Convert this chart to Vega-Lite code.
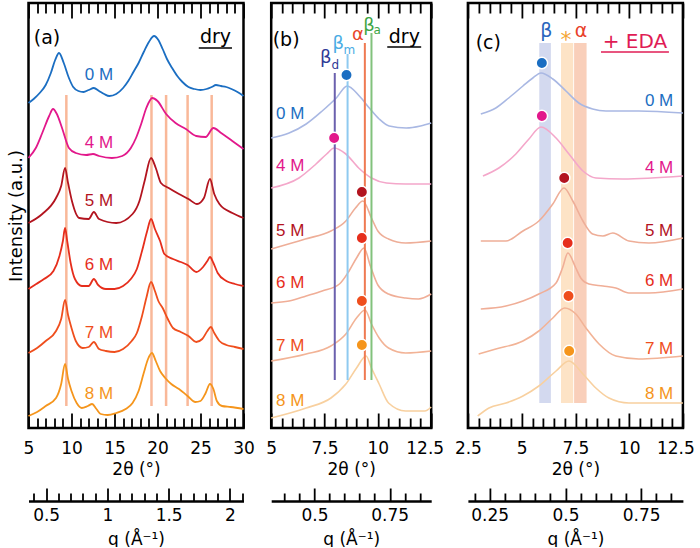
{
  "$schema": "https://vega.github.io/schema/vega-lite/v6.json",
  "padding": {"left": 5.5, "top": 0, "right": 0, "bottom": 0},
  "background": "white",
  "config": {
    "font": "DejaVu Sans",
    "view": {"stroke": "black", "strokeWidth": 2.5},
    "axis": {"labelFontSize": 17, "titleFontSize": 17, "titleFontWeight": "normal", "labelColor": "black", "titleColor": "black", "tickColor": "black", "tickWidth": 1.8, "domainColor": "black", "grid": false, "labelFlush": false, "labelOverlap": false},
    "text": {"fontSize": 17}
  },
  "datasets": {
    "a_curves": [
      {"s":"0 M","x":5,"y":325},{"s":"0 M","x":5.6,"y":329},{"s":"0 M","x":6.3,"y":335},{"s":"0 M","x":7,"y":343},{"s":"0 M","x":7.6,"y":355},{"s":"0 M","x":8.1,"y":368},{"s":"0 M","x":8.55,"y":375},{"s":"0 M","x":9.1,"y":365},{"s":"0 M","x":9.7,"y":350},{"s":"0 M","x":10.2,"y":341},{"s":"0 M","x":10.8,"y":337},{"s":"0 M","x":11.4,"y":336},{"s":"0 M","x":12,"y":338},{"s":"0 M","x":12.6,"y":340},{"s":"0 M","x":13.2,"y":337},{"s":"0 M","x":13.8,"y":334},{"s":"0 M","x":14.4,"y":332},{"s":"0 M","x":15.2,"y":334},{"s":"0 M","x":16,"y":340},{"s":"0 M","x":16.6,"y":347},{"s":"0 M","x":17.2,"y":356},{"s":"0 M","x":17.8,"y":365},{"s":"0 M","x":18.4,"y":376},{"s":"0 M","x":19,"y":386},{"s":"0 M","x":19.6,"y":392},{"s":"0 M","x":20.1,"y":388},{"s":"0 M","x":20.6,"y":379},{"s":"0 M","x":21.1,"y":369},{"s":"0 M","x":21.7,"y":360},{"s":"0 M","x":22.3,"y":352},{"s":"0 M","x":22.9,"y":346},{"s":"0 M","x":23.6,"y":341},{"s":"0 M","x":24.3,"y":339},{"s":"0 M","x":25,"y":338},{"s":"0 M","x":25.7,"y":339},{"s":"0 M","x":26.3,"y":341},{"s":"0 M","x":26.8,"y":343},{"s":"0 M","x":27.4,"y":342},{"s":"0 M","x":28,"y":341},{"s":"0 M","x":28.6,"y":339},{"s":"0 M","x":29.3,"y":336},{"s":"0 M","x":30,"y":332},
      {"s":"4 M","x":5,"y":270},{"s":"4 M","x":5.85,"y":280},{"s":"4 M","x":6.6,"y":295},{"s":"4 M","x":7.4,"y":312},{"s":"4 M","x":7.85,"y":319},{"s":"4 M","x":8.3,"y":314},{"s":"4 M","x":8.9,"y":300},{"s":"4 M","x":9.7,"y":280},{"s":"4 M","x":10.5,"y":275},{"s":"4 M","x":11.7,"y":273},{"s":"4 M","x":12.5,"y":274},{"s":"4 M","x":13.2,"y":272},{"s":"4 M","x":14.7,"y":270},{"s":"4 M","x":15.9,"y":272},{"s":"4 M","x":16.9,"y":280},{"s":"4 M","x":17.5,"y":290},{"s":"4 M","x":18.1,"y":304},{"s":"4 M","x":18.7,"y":320},{"s":"4 M","x":19.4,"y":330},{"s":"4 M","x":20,"y":327},{"s":"4 M","x":21,"y":314},{"s":"4 M","x":22.1,"y":305},{"s":"4 M","x":23.3,"y":299},{"s":"4 M","x":24.5,"y":292},{"s":"4 M","x":25.6,"y":291},{"s":"4 M","x":26.5,"y":300},{"s":"4 M","x":27.4,"y":295},{"s":"4 M","x":28.7,"y":287},{"s":"4 M","x":30,"y":279},
      {"s":"5 M","x":5,"y":205},{"s":"5 M","x":6.6,"y":214},{"s":"5 M","x":8.2,"y":230},{"s":"5 M","x":8.8,"y":242},{"s":"5 M","x":9.25,"y":260},{"s":"5 M","x":9.6,"y":245},{"s":"5 M","x":10.05,"y":227},{"s":"5 M","x":10.9,"y":210},{"s":"5 M","x":12,"y":209},{"s":"5 M","x":12.6,"y":216},{"s":"5 M","x":13.2,"y":209},{"s":"5 M","x":15.2,"y":205},{"s":"5 M","x":17.1,"y":214},{"s":"5 M","x":17.9,"y":227},{"s":"5 M","x":18.5,"y":247},{"s":"5 M","x":19.25,"y":270},{"s":"5 M","x":19.8,"y":260},{"s":"5 M","x":20.4,"y":245},{"s":"5 M","x":21.3,"y":240},{"s":"5 M","x":22.5,"y":234},{"s":"5 M","x":23.6,"y":229},{"s":"5 M","x":24.6,"y":224},{"s":"5 M","x":25.4,"y":230},{"s":"5 M","x":26.1,"y":249},{"s":"5 M","x":26.6,"y":234},{"s":"5 M","x":27.2,"y":224},{"s":"5 M","x":28.7,"y":215},{"s":"5 M","x":30,"y":210},
      {"s":"6 M","x":5,"y":139},{"s":"6 M","x":5.9,"y":144},{"s":"6 M","x":6.8,"y":149},{"s":"6 M","x":7.9,"y":157},{"s":"6 M","x":8.6,"y":172},{"s":"6 M","x":9,"y":187},{"s":"6 M","x":9.25,"y":200},{"s":"6 M","x":9.5,"y":187},{"s":"6 M","x":9.9,"y":165},{"s":"6 M","x":10.4,"y":149},{"s":"6 M","x":11.2,"y":142},{"s":"6 M","x":12,"y":142},{"s":"6 M","x":12.6,"y":149},{"s":"6 M","x":13.1,"y":143},{"s":"6 M","x":14,"y":139},{"s":"6 M","x":15,"y":139},{"s":"6 M","x":16,"y":142},{"s":"6 M","x":16.9,"y":149},{"s":"6 M","x":17.6,"y":159},{"s":"6 M","x":18.2,"y":177},{"s":"6 M","x":18.8,"y":197},{"s":"6 M","x":19.25,"y":209},{"s":"6 M","x":19.7,"y":199},{"s":"6 M","x":20.3,"y":187},{"s":"6 M","x":20.8,"y":174},{"s":"6 M","x":21.8,"y":169},{"s":"6 M","x":22.7,"y":166},{"s":"6 M","x":23.5,"y":163},{"s":"6 M","x":24.5,"y":156},{"s":"6 M","x":25.3,"y":161},{"s":"6 M","x":25.8,"y":167},{"s":"6 M","x":26.1,"y":171},{"s":"6 M","x":26.5,"y":165},{"s":"6 M","x":27,"y":155},{"s":"6 M","x":28,"y":147},{"s":"6 M","x":29,"y":144},{"s":"6 M","x":30,"y":142},
      {"s":"7 M","x":5,"y":75},{"s":"7 M","x":6,"y":80},{"s":"7 M","x":7,"y":87},{"s":"7 M","x":8.2,"y":97},{"s":"7 M","x":8.8,"y":109},{"s":"7 M","x":9.25,"y":128},{"s":"7 M","x":9.6,"y":113},{"s":"7 M","x":10,"y":100},{"s":"7 M","x":10.5,"y":87},{"s":"7 M","x":11.3,"y":80},{"s":"7 M","x":12,"y":81},{"s":"7 M","x":12.6,"y":86},{"s":"7 M","x":13.2,"y":79},{"s":"7 M","x":14,"y":77},{"s":"7 M","x":15,"y":76},{"s":"7 M","x":16,"y":79},{"s":"7 M","x":17,"y":87},{"s":"7 M","x":17.6,"y":95},{"s":"7 M","x":18.2,"y":112},{"s":"7 M","x":18.7,"y":130},{"s":"7 M","x":19.25,"y":146},{"s":"7 M","x":19.7,"y":137},{"s":"7 M","x":20.1,"y":127},{"s":"7 M","x":20.6,"y":120},{"s":"7 M","x":21.2,"y":109},{"s":"7 M","x":21.8,"y":100},{"s":"7 M","x":22.7,"y":96},{"s":"7 M","x":23.6,"y":92},{"s":"7 M","x":24.5,"y":86},{"s":"7 M","x":25.2,"y":89},{"s":"7 M","x":25.8,"y":97},{"s":"7 M","x":26.2,"y":101},{"s":"7 M","x":26.6,"y":95},{"s":"7 M","x":27.2,"y":87},{"s":"7 M","x":28,"y":83},{"s":"7 M","x":29,"y":81},{"s":"7 M","x":30,"y":79},
      {"s":"8 M","x":5,"y":12},{"s":"8 M","x":6,"y":16},{"s":"8 M","x":7,"y":22},{"s":"8 M","x":8.2,"y":30},{"s":"8 M","x":8.8,"y":44},{"s":"8 M","x":9.25,"y":64},{"s":"8 M","x":9.6,"y":49},{"s":"8 M","x":10,"y":37},{"s":"8 M","x":10.6,"y":25},{"s":"8 M","x":11.2,"y":20},{"s":"8 M","x":11.9,"y":22},{"s":"8 M","x":12.4,"y":24},{"s":"8 M","x":12.9,"y":19},{"s":"8 M","x":13.4,"y":14},{"s":"8 M","x":14.2,"y":13},{"s":"8 M","x":15.2,"y":15},{"s":"8 M","x":16.3,"y":19},{"s":"8 M","x":17.1,"y":25},{"s":"8 M","x":17.8,"y":37},{"s":"8 M","x":18.4,"y":55},{"s":"8 M","x":18.9,"y":69},{"s":"8 M","x":19.35,"y":75},{"s":"8 M","x":19.8,"y":67},{"s":"8 M","x":20.3,"y":57},{"s":"8 M","x":20.9,"y":50},{"s":"8 M","x":21.6,"y":44},{"s":"8 M","x":22.5,"y":39},{"s":"8 M","x":23.5,"y":32},{"s":"8 M","x":24.4,"y":26},{"s":"8 M","x":25,"y":27},{"s":"8 M","x":25.6,"y":35},{"s":"8 M","x":26.1,"y":44},{"s":"8 M","x":26.5,"y":39},{"s":"8 M","x":26.9,"y":27},{"s":"8 M","x":27.5,"y":22},{"s":"8 M","x":28.5,"y":21},{"s":"8 M","x":30,"y":19}
    ],
    "a_lines": [
      {"x":9.4,"y1":22,"y2":333},{"x":19.3,"y1":22,"y2":333},{"x":21.0,"y1":22,"y2":333},{"x":23.5,"y1":22,"y2":333},{"x":26.3,"y1":22,"y2":333}
    ],
    "a_labels": [
      {"s":"0 M","x":13.2,"y":353},{"s":"4 M","x":13.2,"y":285},{"s":"5 M","x":13.2,"y":227},{"s":"6 M","x":13.2,"y":163},{"s":"7 M","x":13.2,"y":95},{"s":"8 M","x":13.2,"y":34}
    ],
    "a_text": [
      {"t":"(a)","x":7.15,"y":390},{"t":"dry","x":26.74,"y":391}
    ],
    "a_ul": [{"x1":24.8,"x2":28.66,"y":380}],
    "b_curves": [
      {"s":"0 M","x":5,"y":290},{"s":"0 M","x":5.84,"y":295},{"s":"0 M","x":6.64,"y":304},{"s":"0 M","x":7.39,"y":317},{"s":"0 M","x":8.05,"y":330},{"s":"0 M","x":8.56,"y":342},{"s":"0 M","x":9.13,"y":332},{"s":"0 M","x":9.6,"y":320},{"s":"0 M","x":10.06,"y":309},{"s":"0 M","x":10.53,"y":302},{"s":"0 M","x":11.33,"y":300},{"s":"0 M","x":12,"y":302},{"s":"0 M","x":12.5,"y":305},
      {"s":"4 M","x":5,"y":240},{"s":"4 M","x":6.3,"y":250},{"s":"4 M","x":7.1,"y":264},{"s":"4 M","x":7.6,"y":274},{"s":"4 M","x":7.95,"y":280},{"s":"4 M","x":8.5,"y":274},{"s":"4 M","x":9.1,"y":260},{"s":"4 M","x":9.7,"y":250},{"s":"4 M","x":10.4,"y":245},{"s":"4 M","x":11.3,"y":244},{"s":"4 M","x":12.5,"y":244},
      {"s":"5 M","x":5,"y":179},{"s":"5 M","x":6.6,"y":189},{"s":"5 M","x":7.8,"y":197},{"s":"5 M","x":8.5,"y":207},{"s":"5 M","x":8.95,"y":220},{"s":"5 M","x":9.3,"y":227},{"s":"5 M","x":9.7,"y":210},{"s":"5 M","x":10,"y":197},{"s":"5 M","x":10.5,"y":189},{"s":"5 M","x":11.3,"y":185},{"s":"5 M","x":12.5,"y":187},
      {"s":"6 M","x":5,"y":125},{"s":"6 M","x":5.84,"y":127},{"s":"6 M","x":6.64,"y":132},{"s":"6 M","x":7.39,"y":137},{"s":"6 M","x":8.2,"y":144},{"s":"6 M","x":8.65,"y":157},{"s":"6 M","x":9,"y":170},{"s":"6 M","x":9.35,"y":180},{"s":"6 M","x":9.65,"y":162},{"s":"6 M","x":10,"y":143},{"s":"6 M","x":10.5,"y":134},{"s":"6 M","x":11.3,"y":130},{"s":"6 M","x":11.9,"y":129},{"s":"6 M","x":12.5,"y":134},
      {"s":"7 M","x":5,"y":67},{"s":"7 M","x":6.64,"y":74},{"s":"7 M","x":7.8,"y":82},{"s":"7 M","x":8.5,"y":94},{"s":"7 M","x":9,"y":110},{"s":"7 M","x":9.4,"y":118},{"s":"7 M","x":9.7,"y":104},{"s":"7 M","x":10.06,"y":90},{"s":"7 M","x":10.5,"y":80},{"s":"7 M","x":11.3,"y":75},{"s":"7 M","x":12.5,"y":77},
      {"s":"8 M","x":5,"y":10},{"s":"8 M","x":6.64,"y":20},{"s":"8 M","x":7.8,"y":30},{"s":"8 M","x":8.5,"y":44},{"s":"8 M","x":9,"y":60},{"s":"8 M","x":9.45,"y":72},{"s":"8 M","x":9.7,"y":60},{"s":"8 M","x":10.06,"y":44},{"s":"8 M","x":10.5,"y":25},{"s":"8 M","x":11.3,"y":17},{"s":"8 M","x":12.2,"y":17},{"s":"8 M","x":12.5,"y":21}
    ],
    "b_points": [
      {"s":"0 M","x":8.53,"y":353},{"s":"4 M","x":7.95,"y":290},{"s":"5 M","x":9.25,"y":236},{"s":"6 M","x":9.25,"y":190},{"s":"7 M","x":9.25,"y":127},{"s":"8 M","x":9.25,"y":83}
    ],
    "b_vlines": [
      {"s":"βd","x":7.98,"y1":48,"y2":355},{"s":"βm","x":8.58,"y1":48,"y2":374},{"s":"α","x":9.39,"y1":48,"y2":385},{"s":"βa","x":9.7,"y1":48,"y2":395}
    ],
    "b_annot": [
      {"s":"βd","t":"β","x":7.56,"y":370},{"s":"βm","t":"β","x":8.14,"y":384},{"s":"α","t":"α","x":9.06,"y":393},{"s":"βa","t":"β","x":9.59,"y":402}
    ],
    "b_sub": [
      {"s":"βd","t":"d","x":8.01,"y":363},{"s":"βm","t":"m","x":8.66,"y":378},{"s":"βa","t":"a","x":9.97,"y":398}
    ],
    "b_labels": [
      {"s":"0 M","x":5.23,"y":314},{"s":"4 M","x":5.23,"y":262},{"s":"5 M","x":5.23,"y":197},{"s":"6 M","x":5.23,"y":145},{"s":"7 M","x":5.23,"y":82},{"s":"8 M","x":5.23,"y":27}
    ],
    "b_text": [
      {"t":"(b)","x":5.7,"y":388},{"t":"dry","x":11.24,"y":391}
    ],
    "b_ul": [{"x1":10.44,"x2":12.03,"y":381}],
    "c_curves": [
      {"s":"0 M","x":3.1,"y":314},{"s":"0 M","x":3.8,"y":320},{"s":"0 M","x":4.4,"y":330},{"s":"0 M","x":5.06,"y":342},{"s":"0 M","x":5.52,"y":350},{"s":"0 M","x":5.9,"y":355},{"s":"0 M","x":6.45,"y":349},{"s":"0 M","x":7.06,"y":337},{"s":"0 M","x":7.66,"y":325},{"s":"0 M","x":8.3,"y":319},{"s":"0 M","x":8.92,"y":317},{"s":"0 M","x":10.45,"y":317},{"s":"0 M","x":12.5,"y":315},
      {"s":"4 M","x":3.2,"y":252},{"s":"4 M","x":3.94,"y":260},{"s":"4 M","x":4.73,"y":274},{"s":"4 M","x":5.34,"y":289},{"s":"4 M","x":5.9,"y":301},{"s":"4 M","x":6.6,"y":290},{"s":"4 M","x":7.2,"y":274},{"s":"4 M","x":7.85,"y":257},{"s":"4 M","x":8.45,"y":250},{"s":"4 M","x":9.7,"y":249},{"s":"4 M","x":12.5,"y":252},
      {"s":"5 M","x":3.1,"y":187},{"s":"5 M","x":4.27,"y":187},{"s":"5 M","x":5.06,"y":197},{"s":"5 M","x":5.8,"y":207},{"s":"5 M","x":6.45,"y":224},{"s":"5 M","x":6.97,"y":240},{"s":"5 M","x":7.38,"y":227},{"s":"5 M","x":7.85,"y":207},{"s":"5 M","x":8.3,"y":194},{"s":"5 M","x":8.78,"y":192},{"s":"5 M","x":9.24,"y":195},{"s":"5 M","x":9.99,"y":187},{"s":"5 M","x":10.92,"y":185},{"s":"5 M","x":12.5,"y":190},
      {"s":"6 M","x":3.1,"y":119},{"s":"6 M","x":4.27,"y":122},{"s":"6 M","x":5.06,"y":127},{"s":"6 M","x":5.8,"y":134},{"s":"6 M","x":6.6,"y":145},{"s":"6 M","x":6.9,"y":160},{"s":"6 M","x":7.15,"y":175},{"s":"6 M","x":7.52,"y":160},{"s":"6 M","x":7.75,"y":150},{"s":"6 M","x":8.13,"y":144},{"s":"6 M","x":8.78,"y":142},{"s":"6 M","x":9.38,"y":140},{"s":"6 M","x":9.99,"y":135},{"s":"6 M","x":10.92,"y":135},{"s":"6 M","x":12.5,"y":139},
      {"s":"7 M","x":3,"y":74},{"s":"7 M","x":3.8,"y":79},{"s":"7 M","x":5.06,"y":87},{"s":"7 M","x":5.8,"y":97},{"s":"7 M","x":6.45,"y":110},{"s":"7 M","x":7,"y":120},{"s":"7 M","x":7.52,"y":114},{"s":"7 M","x":7.99,"y":100},{"s":"7 M","x":8.6,"y":84},{"s":"7 M","x":9.38,"y":72},{"s":"7 M","x":10.45,"y":69},{"s":"7 M","x":12.5,"y":72},
      {"s":"8 M","x":2.96,"y":12},{"s":"8 M","x":3.48,"y":20},{"s":"8 M","x":4.27,"y":25},{"s":"8 M","x":5.06,"y":32},{"s":"8 M","x":5.8,"y":42},{"s":"8 M","x":6.6,"y":57},{"s":"8 M","x":7.2,"y":67},{"s":"8 M","x":7.85,"y":54},{"s":"8 M","x":8.45,"y":40},{"s":"8 M","x":9.06,"y":30},{"s":"8 M","x":9.99,"y":25},{"s":"8 M","x":11.24,"y":25},{"s":"8 M","x":12.5,"y":25}
    ],
    "c_points": [
      {"s":"0 M","x":5.94,"y":365},{"s":"4 M","x":5.94,"y":312},{"s":"5 M","x":6.98,"y":250},{"s":"6 M","x":7.14,"y":185},{"s":"7 M","x":7.18,"y":132},{"s":"8 M","x":7.21,"y":77}
    ],
    "c_bands": [
      {"band":"β","x1":5.82,"x2":6.36,"y1":25,"y2":385},{"band":"*","x1":6.83,"x2":7.4,"y1":25,"y2":385},{"band":"α","x1":7.44,"x2":8.02,"y1":25,"y2":385}
    ],
    "c_annot": [
      {"s":"β","x":6.15,"y":397},{"s":"α","x":7.76,"y":397}
    ],
    "c_star": [{"s":"*","x":7.06,"y":388}],
    "c_eda": [{"t":"+ EDA","x":10.27,"y":386}],
    "c_labels": [
      {"s":"0 M","x":12.05,"y":327},{"s":"4 M","x":12.05,"y":260},{"s":"5 M","x":12.05,"y":197},{"s":"6 M","x":12.05,"y":147},{"s":"7 M","x":12.05,"y":79},{"s":"8 M","x":12.05,"y":34}
    ],
    "c_text": [{"t":"(c)","x":3.45,"y":385}],
    "c_ul": [{"x1":8.69,"x2":11.85,"y":376}]
  },
  "concat": [
    {
      "width": 215, "height": 425,
      "layer": [
        {"data": {"name": "a_lines"}, "mark": {"type": "rule", "color": "#f9b899", "strokeWidth": 2.5},
         "encoding": {
           "x": {"field": "x", "type": "quantitative", "scale": {"domain": [5, 30], "nice": false, "zero": false},
                 "axis": {"orient": "top", "values": [5,6,7,8,9,10,11,12,13,14,15,16,17,18,19,20,21,22,23,24,25,26,27,28,29,30], "labels": false, "domain": false, "title": null,
                          "tickSize": {"condition": {"test": "datum.value % 5 === 0", "value": -15}, "value": -10}}},
           "y": {"field": "y1", "type": "quantitative", "scale": {"domain": [0, 425], "nice": false, "zero": false},
                 "axis": {"title": "Intensity (a.u.)", "domain": false, "ticks": false, "labels": false, "titlePadding": 3, "titleFontSize": 18}},
           "y2": {"field": "y2"}}},
        {"data": {"name": "a_curves"}, "mark": {"type": "line", "strokeWidth": 1.8, "interpolate": "monotone"},
         "encoding": {
           "x": {"field": "x", "type": "quantitative", "scale": {"domain": [5, 30], "nice": false, "zero": false},
                 "axis": {"orient": "bottom", "values": [5,6,7,8,9,10,11,12,13,14,15,16,17,18,19,20,21,22,23,24,25,26,27,28,29,30], "domain": false,
                          "labelExpr": "datum.value % 5 === 0 ? '' + datum.value : ''",
                          "tickSize": {"condition": {"test": "datum.value % 5 === 0", "value": -15}, "value": -10},
                          "labelPadding": 27, "title": "2θ (°)", "titlePadding": 0}},
           "y": {"field": "y", "type": "quantitative", "scale": {"domain": [0, 425], "nice": false, "zero": false},
                 "axis": {"title": "Intensity (a.u.)", "domain": false, "ticks": false, "labels": false, "titlePadding": 3, "titleFontSize": 18}},
           "color": {"field": "s", "type": "nominal", "scale": {"domain": ["0 M","4 M","5 M","6 M","7 M","8 M"], "range": ["#1b6ec2","#e2188b","#b3141f","#e62e1c","#ef4e1d","#f5951c"]}, "legend": null}}},
        {"data": {"name": "a_labels"}, "mark": {"type": "text", "fontSize": 17, "font": "Liberation Sans", "align": "center", "baseline": "middle"},
         "encoding": {
           "x": {"field": "x", "type": "quantitative", "scale": {"domain": [5, 30], "nice": false, "zero": false}, "axis": null},
           "y": {"field": "y", "type": "quantitative", "scale": {"domain": [0, 425], "nice": false, "zero": false},
                 "axis": {"title": "Intensity (a.u.)", "domain": false, "ticks": false, "labels": false, "titlePadding": 3, "titleFontSize": 18}},
           "text": {"field": "s"},
           "color": {"field": "s", "type": "nominal", "scale": {"domain": ["0 M","4 M","5 M","6 M","7 M","8 M"], "range": ["#1b6ec2","#e2188b","#b3141f","#e62e1c","#ef4e1d","#f5951c"]}, "legend": null}}},
        {"data": {"name": "a_text"}, "mark": {"type": "text", "fontSize": 19, "align": "center", "baseline": "middle", "color": "black"},
         "encoding": {
           "x": {"field": "x", "type": "quantitative", "scale": {"domain": [5, 30], "nice": false, "zero": false}, "axis": null},
           "y": {"field": "y", "type": "quantitative", "scale": {"domain": [0, 425], "nice": false, "zero": false},
                 "axis": {"title": "Intensity (a.u.)", "domain": false, "ticks": false, "labels": false, "titlePadding": 3, "titleFontSize": 18}},
           "text": {"field": "t"}}},
        {"data": {"name": "a_ul"}, "mark": {"type": "rule", "color": "black", "strokeWidth": 1.5},
         "encoding": {
           "x": {"field": "x1", "type": "quantitative", "scale": {"domain": [5, 30], "nice": false, "zero": false}, "axis": null},
           "x2": {"field": "x2"},
           "y": {"field": "y", "type": "quantitative", "scale": {"domain": [0, 425], "nice": false, "zero": false},
                 "axis": {"title": "Intensity (a.u.)", "domain": false, "ticks": false, "labels": false, "titlePadding": 3, "titleFontSize": 18}}}}
      ],
      "resolve": {"axis": {"x": "independent"}}
    },
    {
      "width": 160, "height": 425,
      "layer": [
        {"data": {"name": "b_curves"}, "mark": {"type": "line", "strokeWidth": 1.6, "interpolate": "monotone"},
         "encoding": {
           "x": {"field": "x", "type": "quantitative", "scale": {"domain": [5, 12.5], "nice": false, "zero": false},
                 "axis": {"orient": "bottom", "values": [5,5.5,6,6.5,7,7.5,8,8.5,9,9.5,10,10.5,11,11.5,12,12.5], "domain": false,
                          "labelExpr": "datum.value % 2.5 === 0 ? '' + datum.value : ''",
                          "labelOffset": {"condition": {"test": "datum.value === 12.5", "value": -6.5}, "value": 0},
                          "tickSize": {"condition": {"test": "datum.value % 2.5 === 0", "value": -15}, "value": -10},
                          "labelPadding": 27, "title": "2θ (°)", "titlePadding": 0}},
           "y": {"field": "y", "type": "quantitative", "scale": {"domain": [0, 425], "nice": false, "zero": false}, "axis": null},
           "stroke": {"field": "s", "type": "nominal", "scale": {"domain": ["0 M","4 M","5 M","6 M","7 M","8 M","βd","βm","α","βa"], "range": ["#a9b8e3","#f4a7ca","#eeae98","#f0ae97","#f2b396","#f8d09f","#6b61ae","#8fcaf0","#ef7a52","#82c27c"]}, "legend": null}}},
        {"data": {"name": "b_vlines"}, "mark": {"type": "rule", "strokeWidth": 2},
         "encoding": {
           "x": {"field": "x", "type": "quantitative", "scale": {"domain": [5, 12.5], "nice": false, "zero": false},
                 "axis": {"orient": "top", "values": [5,5.5,6,6.5,7,7.5,8,8.5,9,9.5,10,10.5,11,11.5,12,12.5], "labels": false, "domain": false, "title": null,
                          "tickSize": {"condition": {"test": "datum.value % 2.5 === 0", "value": -15}, "value": -10}}},
           "y": {"field": "y1", "type": "quantitative", "scale": {"domain": [0, 425], "nice": false, "zero": false}, "axis": null},
           "y2": {"field": "y2"},
           "stroke": {"field": "s", "type": "nominal", "scale": {"domain": ["0 M","4 M","5 M","6 M","7 M","8 M","βd","βm","α","βa"], "range": ["#a9b8e3","#f4a7ca","#eeae98","#f0ae97","#f2b396","#f8d09f","#6b61ae","#8fcaf0","#ef7a52","#82c27c"]}, "legend": null}}},
        {"data": {"name": "b_points"}, "mark": {"type": "point", "filled": true, "size": 130, "stroke": "white", "strokeWidth": 1.5, "opacity": 1},
         "encoding": {
           "x": {"field": "x", "type": "quantitative", "scale": {"domain": [5, 12.5], "nice": false, "zero": false}, "axis": null},
           "y": {"field": "y", "type": "quantitative", "scale": {"domain": [0, 425], "nice": false, "zero": false}, "axis": null},
           "color": {"field": "s", "type": "nominal", "scale": {"domain": ["0 M","4 M","5 M","6 M","7 M","8 M"], "range": ["#1b6ec2","#e2188b","#b3141f","#e62e1c","#ef4e1d","#f5951c"]}, "legend": null}}},
        {"data": {"name": "b_labels"}, "mark": {"type": "text", "fontSize": 17, "font": "Liberation Sans", "align": "left", "baseline": "middle"},
         "encoding": {
           "x": {"field": "x", "type": "quantitative", "scale": {"domain": [5, 12.5], "nice": false, "zero": false}, "axis": null},
           "y": {"field": "y", "type": "quantitative", "scale": {"domain": [0, 425], "nice": false, "zero": false}, "axis": null},
           "text": {"field": "s"},
           "color": {"field": "s", "type": "nominal", "scale": {"domain": ["0 M","4 M","5 M","6 M","7 M","8 M"], "range": ["#1b6ec2","#e2188b","#b3141f","#e62e1c","#ef4e1d","#f5951c"]}, "legend": null}}},
        {"data": {"name": "b_annot"}, "mark": {"type": "text", "fontSize": 18, "align": "center", "baseline": "middle"},
         "encoding": {
           "x": {"field": "x", "type": "quantitative", "scale": {"domain": [5, 12.5], "nice": false, "zero": false}, "axis": null},
           "y": {"field": "y", "type": "quantitative", "scale": {"domain": [0, 425], "nice": false, "zero": false}, "axis": null},
           "text": {"field": "t"},
           "color": {"condition": [{"test": "datum.s === 'βd'", "value": "#2f3a96"}, {"test": "datum.s === 'βm'", "value": "#49ace4"}, {"test": "datum.s === 'βa'", "value": "#3ea544"}], "value": "#e9472a"}}},
        {"data": {"name": "b_sub"}, "mark": {"type": "text", "fontSize": 12, "align": "center", "baseline": "middle"},
         "encoding": {
           "x": {"field": "x", "type": "quantitative", "scale": {"domain": [5, 12.5], "nice": false, "zero": false}, "axis": null},
           "y": {"field": "y", "type": "quantitative", "scale": {"domain": [0, 425], "nice": false, "zero": false}, "axis": null},
           "text": {"field": "t"},
           "color": {"condition": [{"test": "datum.s === 'βd'", "value": "#2f3a96"}, {"test": "datum.s === 'βm'", "value": "#49ace4"}, {"test": "datum.s === 'βa'", "value": "#3ea544"}], "value": "#e9472a"}}},
        {"data": {"name": "b_text"}, "mark": {"type": "text", "fontSize": 19, "align": "center", "baseline": "middle", "color": "black"},
         "encoding": {
           "x": {"field": "x", "type": "quantitative", "scale": {"domain": [5, 12.5], "nice": false, "zero": false}, "axis": null},
           "y": {"field": "y", "type": "quantitative", "scale": {"domain": [0, 425], "nice": false, "zero": false}, "axis": null},
           "text": {"field": "t"}}},
        {"data": {"name": "b_ul"}, "mark": {"type": "rule", "color": "black", "strokeWidth": 1.5},
         "encoding": {
           "x": {"field": "x1", "type": "quantitative", "scale": {"domain": [5, 12.5], "nice": false, "zero": false}, "axis": null},
           "x2": {"field": "x2"},
           "y": {"field": "y", "type": "quantitative", "scale": {"domain": [0, 425], "nice": false, "zero": false}, "axis": null}}}
      ],
      "resolve": {"axis": {"x": "independent"}}
    },
    {
      "width": 215, "height": 425,
      "layer": [
        {"data": {"name": "c_bands"}, "mark": {"type": "rect"},
         "encoding": {
           "x": {"field": "x1", "type": "quantitative", "scale": {"domain": [2.5, 12.5], "nice": false, "zero": false},
                 "axis": {"orient": "top", "values": [2.5,3,3.5,4,4.5,5,5.5,6,6.5,7,7.5,8,8.5,9,9.5,10,10.5,11,11.5,12,12.5], "labels": false, "domain": false, "title": null,
                          "tickSize": {"condition": {"test": "datum.value % 2.5 === 0", "value": -15}, "value": -10}}},
           "x2": {"field": "x2"},
           "y": {"field": "y1", "type": "quantitative", "scale": {"domain": [0, 425], "nice": false, "zero": false}, "axis": null},
           "y2": {"field": "y2"},
           "fill": {"field": "band", "type": "nominal", "scale": {"domain": ["β","*","α"], "range": ["#d3d9ef","#fde3c6","#f9cfba"]}, "legend": null}}},
        {"data": {"name": "c_curves"}, "mark": {"type": "line", "strokeWidth": 1.6, "interpolate": "monotone"},
         "encoding": {
           "x": {"field": "x", "type": "quantitative", "scale": {"domain": [2.5, 12.5], "nice": false, "zero": false},
                 "axis": {"orient": "bottom", "values": [2.5,3,3.5,4,4.5,5,5.5,6,6.5,7,7.5,8,8.5,9,9.5,10,10.5,11,11.5,12,12.5], "domain": false,
                          "labelExpr": "datum.value % 2.5 === 0 ? '' + datum.value : ''",
                          "labelOffset": {"condition": {"test": "datum.value === 12.5", "value": -7.5}, "value": 0},
                          "tickSize": {"condition": {"test": "datum.value % 2.5 === 0", "value": -15}, "value": -10},
                          "labelPadding": 27, "title": "2θ (°)", "titlePadding": 0}},
           "y": {"field": "y", "type": "quantitative", "scale": {"domain": [0, 425], "nice": false, "zero": false}, "axis": null},
           "stroke": {"field": "s", "type": "nominal", "scale": {"domain": ["0 M","4 M","5 M","6 M","7 M","8 M"], "range": ["#a9b7e2","#f3a5c9","#eeaa95","#efae97","#f1b295","#f8cd9c"]}, "legend": null}}},
        {"data": {"name": "c_points"}, "mark": {"type": "point", "filled": true, "size": 130, "stroke": "white", "strokeWidth": 1.5, "opacity": 1},
         "encoding": {
           "x": {"field": "x", "type": "quantitative", "scale": {"domain": [2.5, 12.5], "nice": false, "zero": false}, "axis": null},
           "y": {"field": "y", "type": "quantitative", "scale": {"domain": [0, 425], "nice": false, "zero": false}, "axis": null},
           "color": {"field": "s", "type": "nominal", "scale": {"domain": ["0 M","4 M","5 M","6 M","7 M","8 M"], "range": ["#1b6ec2","#e2188b","#b3141f","#e62e1c","#ef4e1d","#f5951c"]}, "legend": null}}},
        {"data": {"name": "c_labels"}, "mark": {"type": "text", "fontSize": 17, "font": "Liberation Sans", "align": "right", "baseline": "middle"},
         "encoding": {
           "x": {"field": "x", "type": "quantitative", "scale": {"domain": [2.5, 12.5], "nice": false, "zero": false}, "axis": null},
           "y": {"field": "y", "type": "quantitative", "scale": {"domain": [0, 425], "nice": false, "zero": false}, "axis": null},
           "text": {"field": "s"},
           "color": {"field": "s", "type": "nominal", "scale": {"domain": ["0 M","4 M","5 M","6 M","7 M","8 M"], "range": ["#1b6ec2","#e2188b","#b3141f","#e62e1c","#ef4e1d","#f5951c"]}, "legend": null}}},
        {"data": {"name": "c_annot"}, "mark": {"type": "text", "fontSize": 19, "align": "center", "baseline": "middle"},
         "encoding": {
           "x": {"field": "x", "type": "quantitative", "scale": {"domain": [2.5, 12.5], "nice": false, "zero": false}, "axis": null},
           "y": {"field": "y", "type": "quantitative", "scale": {"domain": [0, 425], "nice": false, "zero": false}, "axis": null},
           "text": {"field": "s"},
           "color": {"condition": {"test": "datum.s === 'β'", "value": "#2a66bd"}, "value": "#e8402a"}}},
        {"data": {"name": "c_star"}, "mark": {"type": "text", "fontSize": 22, "align": "center", "baseline": "middle", "color": "#f4a636"},
         "encoding": {
           "x": {"field": "x", "type": "quantitative", "scale": {"domain": [2.5, 12.5], "nice": false, "zero": false}, "axis": null},
           "y": {"field": "y", "type": "quantitative", "scale": {"domain": [0, 425], "nice": false, "zero": false}, "axis": null},
           "text": {"field": "s"}}},
        {"data": {"name": "c_eda"}, "mark": {"type": "text", "fontSize": 20, "align": "center", "baseline": "middle", "color": "#e01c55"},
         "encoding": {
           "x": {"field": "x", "type": "quantitative", "scale": {"domain": [2.5, 12.5], "nice": false, "zero": false}, "axis": null},
           "y": {"field": "y", "type": "quantitative", "scale": {"domain": [0, 425], "nice": false, "zero": false}, "axis": null},
           "text": {"field": "t"}}},
        {"data": {"name": "c_text"}, "mark": {"type": "text", "fontSize": 19, "align": "center", "baseline": "middle", "color": "black"},
         "encoding": {
           "x": {"field": "x", "type": "quantitative", "scale": {"domain": [2.5, 12.5], "nice": false, "zero": false}, "axis": null},
           "y": {"field": "y", "type": "quantitative", "scale": {"domain": [0, 425], "nice": false, "zero": false}, "axis": null},
           "text": {"field": "t"}}},
        {"data": {"name": "c_ul"}, "mark": {"type": "rule", "color": "#e01c55", "strokeWidth": 1.5},
         "encoding": {
           "x": {"field": "x1", "type": "quantitative", "scale": {"domain": [2.5, 12.5], "nice": false, "zero": false}, "axis": null},
           "x2": {"field": "x2"},
           "y": {"field": "y", "type": "quantitative", "scale": {"domain": [0, 425], "nice": false, "zero": false}, "axis": null}}}
      ],
      "resolve": {"axis": {"x": "independent"}}
    },
    {
      "width": 215, "height": 14, "view": {"stroke": null},
      "data": {"values": [{"q": 0.3558}, {"q": 2.1111}]},
      "mark": {"type": "point", "opacity": 0},
      "encoding": {
        "x": {"field": "q", "type": "quantitative", "scale": {"domain": [0.3558, 2.1111], "nice": false, "zero": false},
              "axis": {"orient": "bottom", "values": [0.4,0.5,0.6,0.7,0.8,0.9,1,1.1,1.2,1.3,1.4,1.5,1.6,1.7,1.8,1.9,2,2.1],
                       "labelExpr": "datum.value % 0.5 === 0 ? '' + datum.value : ''",
                       "tickSize": {"condition": {"test": "datum.value % 0.5 === 0", "value": -13}, "value": -8},
                       "domain": true, "domainWidth": 2.5, "labelPadding": 19, "title": "q (Å⁻¹)", "titlePadding": 3}}}
    },
    {
      "width": 160, "height": 14, "view": {"stroke": null},
      "data": {"values": [{"q": 0.3558}, {"q": 0.888}]},
      "mark": {"type": "point", "opacity": 0},
      "encoding": {
        "x": {"field": "q", "type": "quantitative", "scale": {"domain": [0.3558, 0.888], "nice": false, "zero": false},
              "axis": {"orient": "bottom", "values": [0.4,0.45,0.5,0.55,0.6,0.65,0.7,0.75,0.8,0.85],
                       "labelExpr": "datum.value % 0.25 === 0 ? '' + datum.value : ''",
                       "tickSize": {"condition": {"test": "datum.value % 0.25 === 0", "value": -13}, "value": -8},
                       "domain": true, "domainWidth": 2.5, "labelPadding": 19, "title": "q (Å⁻¹)", "titlePadding": 3}}}
    },
    {
      "width": 215, "height": 14, "view": {"stroke": null},
      "data": {"values": [{"q": 0.1779}, {"q": 0.888}]},
      "mark": {"type": "point", "opacity": 0},
      "encoding": {
        "x": {"field": "q", "type": "quantitative", "scale": {"domain": [0.1779, 0.888], "nice": false, "zero": false},
              "axis": {"orient": "bottom", "values": [0.2,0.25,0.3,0.35,0.4,0.45,0.5,0.55,0.6,0.65,0.7,0.75,0.8,0.85],
                       "labelExpr": "datum.value % 0.25 === 0 ? '' + datum.value : ''",
                       "tickSize": {"condition": {"test": "datum.value % 0.25 === 0", "value": -13}, "value": -8},
                       "domain": true, "domainWidth": 2.5, "labelPadding": 19, "title": "q (Å⁻¹)", "titlePadding": 3}}}
    }
  ],
  "columns": 3,
  "align": "each",
  "spacing": {"row": 8, "column": 7.7}
}
